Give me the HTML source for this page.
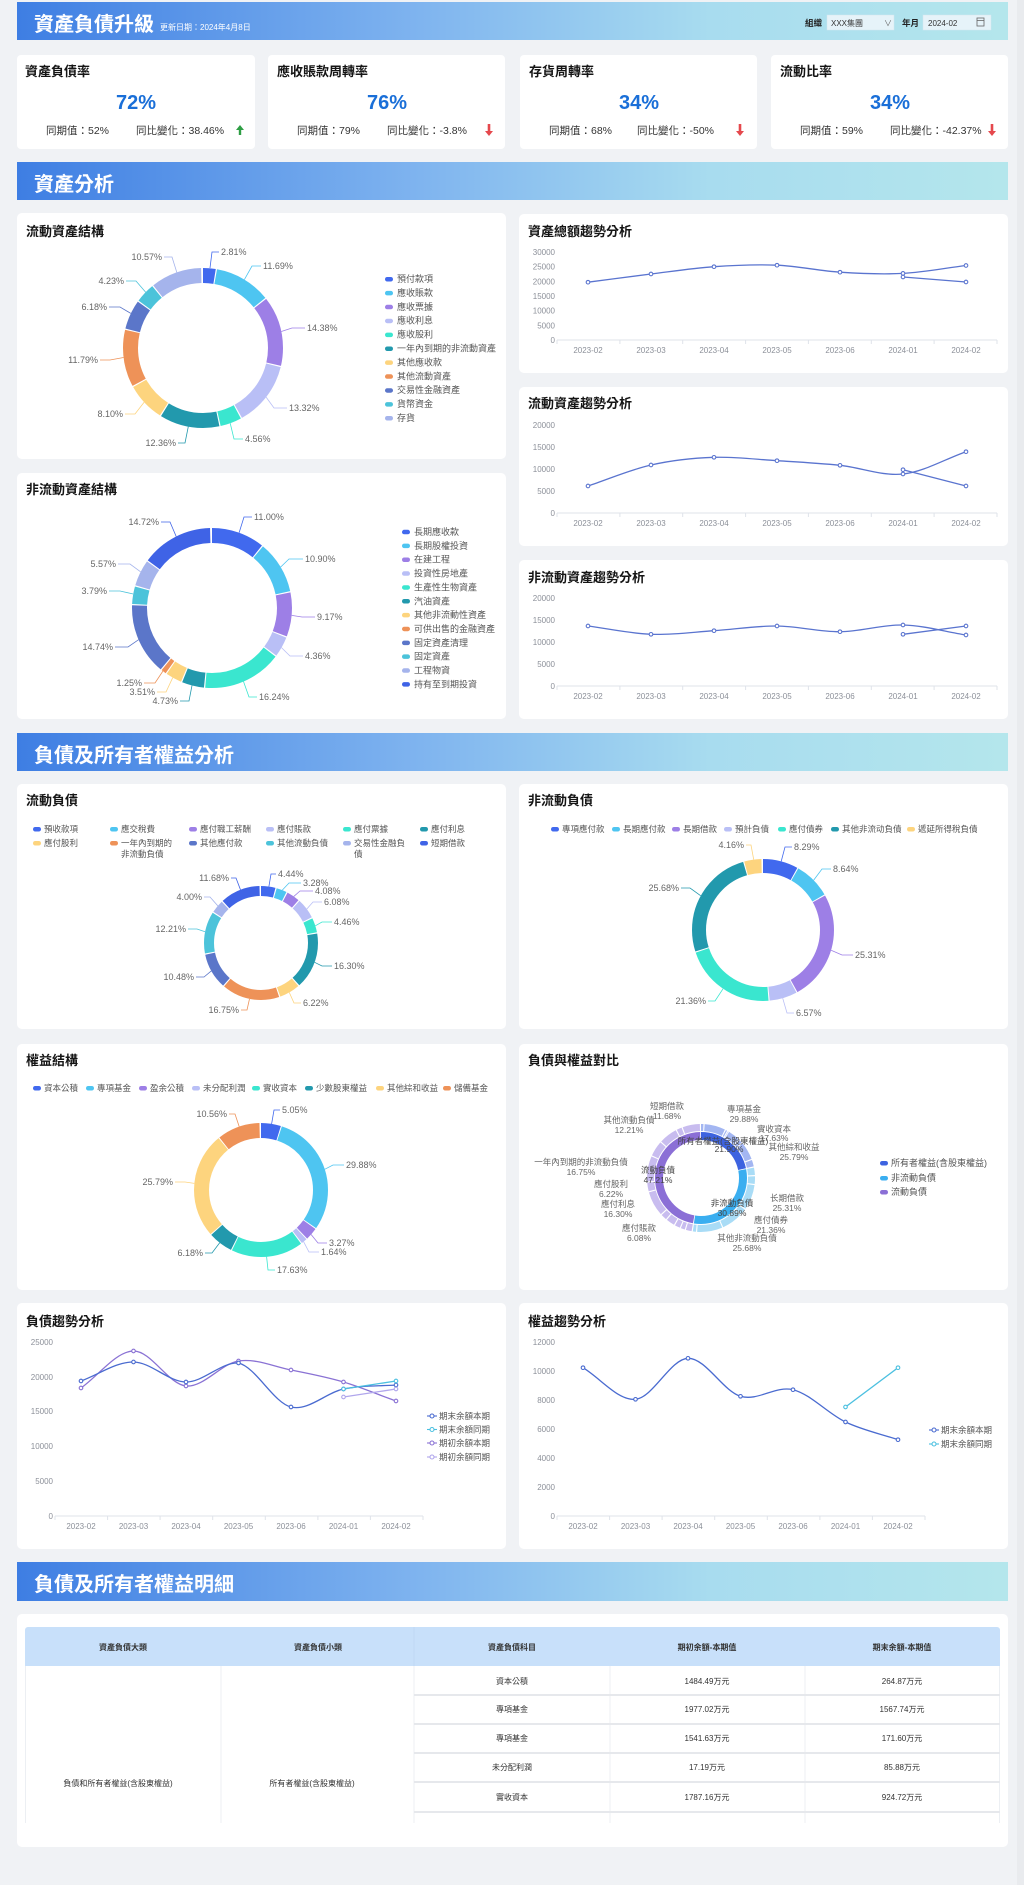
<!DOCTYPE html>
<html><head><meta charset="utf-8"><style>
html,body{margin:0;padding:0;background:#f0f2f5;}
svg{display:block;}
svg text{font-family:"Liberation Sans","Noto Sans CJK TC",sans-serif;}
.t{font-size:13px;font-weight:bold;fill:#151515;}
.sec{font-size:20px;font-weight:bold;fill:#fff;}
.lb{font-size:9px;fill:#666;}
.lg{font-size:9px;fill:#555;}
.lg2{font-size:8.5px;fill:#555;}
.ax{font-size:8px;fill:#8c9099;}
.ll{fill:none;stroke-width:0.8;}
.nl{font-size:8.5px;fill:#666;}
.th{font-size:8px;font-weight:bold;fill:#333;}
.td{font-size:8px;fill:#333;}
</style></head><body>
<svg width="1024" height="1885" viewBox="0 0 1024 1885" xmlns="http://www.w3.org/2000/svg">
<defs>
<linearGradient id="bn" x1="0" x2="1" y1="0" y2="0">
<stop offset="0" stop-color="#3e7ee3"/><stop offset="0.4" stop-color="#7eb3ef"/><stop offset="0.7" stop-color="#a8dcef"/><stop offset="1" stop-color="#b4e6ec"/>
</linearGradient>
</defs>
<rect width="1024" height="1885" fill="#f0f2f5"/>
<rect x="1017" y="0" width="7" height="1885" fill="#e9ebee"/>

<!-- Header -->
<rect x="17" y="2" width="991" height="38" fill="url(#bn)"/>
<text x="34" y="31" class="sec">資產負債升級</text>
<text x="160" y="30" font-size="8" fill="#fff">更新日期：2024年4月8日</text>
<text x="805" y="26" font-size="8.5" font-weight="bold" fill="#222">組織</text>
<rect x="827" y="15" width="67" height="15" fill="#e6f3f9" stroke="#d3e6ef" stroke-width="0.5"/>
<text x="831" y="26" font-size="8" fill="#333">XXX集團</text>
<text x="884" y="26" font-size="8" fill="#666">∨</text>
<text x="902" y="26" font-size="8.5" font-weight="bold" fill="#222">年月</text>
<rect x="923" y="15" width="68" height="15" fill="#e6f3f9" stroke="#d3e6ef" stroke-width="0.5"/>
<text x="928" y="26" font-size="8" fill="#333">2024-02</text>
<rect x="977" y="18" width="7" height="8" fill="none" stroke="#666" stroke-width="0.8"/>
<line x1="977" y1="20.5" x2="984" y2="20.5" stroke="#666" stroke-width="0.8"/>

<!-- KPI cards -->
<g>
<rect x="17" y="55" width="238" height="94" rx="4" fill="#fff"/>
<rect x="268" y="55" width="237" height="94" rx="4" fill="#fff"/>
<rect x="520" y="55" width="237" height="94" rx="4" fill="#fff"/>
<rect x="771" y="55" width="237" height="94" rx="4" fill="#fff"/>
<text x="25" y="76" class="t">資產負債率</text>
<text x="277" y="76" class="t">應收賬款周轉率</text>
<text x="529" y="76" class="t">存貨周轉率</text>
<text x="780" y="76" class="t">流動比率</text>
<g font-size="20" font-weight="bold" fill="#1a6fd8" text-anchor="middle">
<text x="136" y="109">72%</text><text x="387" y="109">76%</text><text x="639" y="109">34%</text><text x="890" y="109">34%</text>
</g>
<g font-size="10.5" fill="#333">
<text x="46" y="134">同期值：52%</text><text x="136" y="134">同比變化：38.46%</text>
<text x="297" y="134">同期值：79%</text><text x="387" y="134">同比變化：-3.8%</text>
<text x="549" y="134">同期值：68%</text><text x="637" y="134">同比變化：-50%</text>
<text x="800" y="134">同期值：59%</text><text x="890" y="134">同比變化：-42.37%</text>
</g>
<polygon points="240,125 244,130 241.2,130 241.2,135 238.8,135 238.8,130 236,130" fill="#2e9e44"/>
<polygon points="489,136 493,131 490.3,131 490.3,124 487.7,124 487.7,131 485,131" fill="#e5484d"/>
<polygon points="740,136 744,131 741.3,131 741.3,124 738.7,124 738.7,131 736,131" fill="#e5484d"/>
<polygon points="992,136 996,131 993.3,131 993.3,124 990.7,124 990.7,131 988,131" fill="#e5484d"/>
</g>

<!-- Section banner 1 -->
<rect x="17" y="162" width="991" height="38" fill="url(#bn)"/>
<text x="34" y="191" class="sec">資產分析</text>

<!-- Cards -->
<g fill="#fff">
<rect x="17" y="213" width="489" height="246" rx="5"/>
<rect x="519" y="214" width="489" height="159" rx="5"/>
<rect x="519" y="387" width="489" height="159" rx="5"/>
<rect x="519" y="560" width="489" height="159" rx="5"/>
<rect x="17" y="473" width="489" height="246" rx="5"/>
<rect x="17" y="784" width="489" height="245" rx="5"/>
<rect x="519" y="784" width="489" height="245" rx="5"/>
<rect x="17" y="1044" width="489" height="246" rx="5"/>
<rect x="519" y="1044" width="489" height="246" rx="5"/>
<rect x="17" y="1303" width="489" height="246" rx="5"/>
<rect x="519" y="1303" width="489" height="246" rx="5"/>
<rect x="17" y="1614" width="991" height="233" rx="5"/>
</g>
<text x="26" y="236" class="t">流動資產結構</text>
<text x="528" y="236" class="t">資產總額趨勢分析</text>
<text x="528" y="408" class="t">流動資產趨勢分析</text>
<text x="528" y="582" class="t">非流動資產趨勢分析</text>
<text x="26" y="494" class="t">非流動資產結構</text>

<!-- Donut 1 -->
<g transform="rotate(-90 203 348)" fill="none" stroke-width="15">
<circle cx="203" cy="348" r="72.5" pathLength="100" stroke="#4169ee" stroke-dasharray="2.56 100" stroke-dashoffset="0"/>
<circle cx="203" cy="348" r="72.5" pathLength="100" stroke="#4ec5f1" stroke-dasharray="11.44 100" stroke-dashoffset="-2.81"/>
<circle cx="203" cy="348" r="72.5" pathLength="100" stroke="#9d7fe6" stroke-dasharray="14.13 100" stroke-dashoffset="-14.50"/>
<circle cx="203" cy="348" r="72.5" pathLength="100" stroke="#b9bff6" stroke-dasharray="13.07 100" stroke-dashoffset="-28.88"/>
<circle cx="203" cy="348" r="72.5" pathLength="100" stroke="#3ae6cf" stroke-dasharray="4.31 100" stroke-dashoffset="-42.20"/>
<circle cx="203" cy="348" r="72.5" pathLength="100" stroke="#2299ad" stroke-dasharray="12.11 100" stroke-dashoffset="-46.76"/>
<circle cx="203" cy="348" r="72.5" pathLength="100" stroke="#fdd47e" stroke-dasharray="7.85 100" stroke-dashoffset="-59.12"/>
<circle cx="203" cy="348" r="72.5" pathLength="100" stroke="#ee9258" stroke-dasharray="11.54 100" stroke-dashoffset="-67.22"/>
<circle cx="203" cy="348" r="72.5" pathLength="100" stroke="#5b76c9" stroke-dasharray="5.93 100" stroke-dashoffset="-79.01"/>
<circle cx="203" cy="348" r="72.5" pathLength="100" stroke="#4cc3da" stroke-dasharray="3.98 100" stroke-dashoffset="-85.19"/>
<circle cx="203" cy="348" r="72.5" pathLength="100" stroke="#a5b4ec" stroke-dasharray="10.32 100" stroke-dashoffset="-89.42"/>
</g>
<g class="ll">
<polyline class="ll" points="210,268 212,252 219,252" stroke="#4169ee"/>
<polyline class="ll" points="244.4,279.6 252,266 261,266" stroke="#4ec5f1"/>
<polyline class="ll" points="281.3,331.5 292,328 305,328" stroke="#9d7fe6"/>
<polyline class="ll" points="266.1,397.1 274,408 287,408" stroke="#b9bff6"/>
<polyline class="ll" points="230.2,423.2 234,439 243,439" stroke="#3ae6cf"/>
<polyline class="ll" points="188.3,426.6 185,443 178,443" stroke="#2299ad"/>
<polyline class="ll" points="144.1,402.2 135,414 125,414" stroke="#fdd47e"/>
<polyline class="ll" points="123.6,357.5 110,360 100,360" stroke="#ee9258"/>
<polyline class="ll" points="130.8,313.4 120,307 109,307" stroke="#5b76c9"/>
<polyline class="ll" points="145.7,292.2 136,281 126,281" stroke="#4cc3da"/>
<polyline class="ll" points="176.8,272.4 172,257 164,257" stroke="#a5b4ec"/>
</g>
<g class="lb">
<text x="221" y="255">2.81%</text>
<text x="263" y="269">11.69%</text>
<text x="307" y="331">14.38%</text>
<text x="289" y="411">13.32%</text>
<text x="245" y="442">4.56%</text>
<text x="176" y="446" text-anchor="end">12.36%</text>
<text x="123" y="417" text-anchor="end">8.10%</text>
<text x="98" y="363" text-anchor="end">11.79%</text>
<text x="107" y="310" text-anchor="end">6.18%</text>
<text x="124" y="284" text-anchor="end">4.23%</text>
<text x="162" y="260" text-anchor="end">10.57%</text>
</g>
<g>
<rect x="385" y="277" width="8" height="4.5" rx="2.2" fill="#4169ee"/>
<rect x="385" y="290.9" width="8" height="4.5" rx="2.2" fill="#4ec5f1"/>
<rect x="385" y="304.8" width="8" height="4.5" rx="2.2" fill="#9d7fe6"/>
<rect x="385" y="318.7" width="8" height="4.5" rx="2.2" fill="#b9bff6"/>
<rect x="385" y="332.6" width="8" height="4.5" rx="2.2" fill="#3ae6cf"/>
<rect x="385" y="346.5" width="8" height="4.5" rx="2.2" fill="#2299ad"/>
<rect x="385" y="360.4" width="8" height="4.5" rx="2.2" fill="#fdd47e"/>
<rect x="385" y="374.3" width="8" height="4.5" rx="2.2" fill="#ee9258"/>
<rect x="385" y="388.2" width="8" height="4.5" rx="2.2" fill="#5b76c9"/>
<rect x="385" y="402.1" width="8" height="4.5" rx="2.2" fill="#4cc3da"/>
<rect x="385" y="416" width="8" height="4.5" rx="2.2" fill="#a5b4ec"/>
</g>
<g class="lg">
<text x="397" y="282">預付款項</text>
<text x="397" y="295.9">應收賬款</text>
<text x="397" y="309.8">應收票據</text>
<text x="397" y="323.7">應收利息</text>
<text x="397" y="337.6">應收股利</text>
<text x="397" y="351.5">一年內到期的非流動資產</text>
<text x="397" y="365.4">其他應收款</text>
<text x="397" y="379.3">其他流動資產</text>
<text x="397" y="393.2">交易性金融資產</text>
<text x="397" y="407.1">貨幣資金</text>
<text x="397" y="421">存貨</text>
</g>

<!-- Donut 2 -->
<g transform="rotate(-90 212 608)" fill="none" stroke-width="15">
<circle cx="212" cy="608" r="72.5" pathLength="100" stroke="#4169ee" stroke-dasharray="10.75 100" stroke-dashoffset="0"/>
<circle cx="212" cy="608" r="72.5" pathLength="100" stroke="#4ec5f1" stroke-dasharray="10.65 100" stroke-dashoffset="-11.00"/>
<circle cx="212" cy="608" r="72.5" pathLength="100" stroke="#9d7fe6" stroke-dasharray="8.92 100" stroke-dashoffset="-21.90"/>
<circle cx="212" cy="608" r="72.5" pathLength="100" stroke="#b9bff6" stroke-dasharray="4.11 100" stroke-dashoffset="-31.07"/>
<circle cx="212" cy="608" r="72.5" pathLength="100" stroke="#3ae6cf" stroke-dasharray="15.99 100" stroke-dashoffset="-35.43"/>
<circle cx="212" cy="608" r="72.5" pathLength="100" stroke="#2299ad" stroke-dasharray="4.48 100" stroke-dashoffset="-51.67"/>
<circle cx="212" cy="608" r="72.5" pathLength="100" stroke="#fdd47e" stroke-dasharray="3.26 100" stroke-dashoffset="-56.40"/>
<circle cx="212" cy="608" r="72.5" pathLength="100" stroke="#ee9258" stroke-dasharray="1.0 100" stroke-dashoffset="-59.91"/>
<circle cx="212" cy="608" r="72.5" pathLength="100" stroke="#5b76c9" stroke-dasharray="14.49 100" stroke-dashoffset="-61.16"/>
<circle cx="212" cy="608" r="72.5" pathLength="100" stroke="#4cc3da" stroke-dasharray="3.54 100" stroke-dashoffset="-75.90"/>
<circle cx="212" cy="608" r="72.5" pathLength="100" stroke="#a5b4ec" stroke-dasharray="5.32 100" stroke-dashoffset="-79.69"/>
<circle cx="212" cy="608" r="72.5" pathLength="100" stroke="#3f63e6" stroke-dasharray="14.47 100" stroke-dashoffset="-85.26"/>
</g>
<g>
<polyline class="ll" points="239.1,532.7 244,517 252,517" stroke="#4169ee"/>
<polyline class="ll" points="280.7,567 289,559 303,559" stroke="#4ec5f1"/>
<polyline class="ll" points="291.7,615.4 302,617 315,617" stroke="#9d7fe6"/>
<polyline class="ll" points="281.5,647.6 290,656 303,656" stroke="#b9bff6"/>
<polyline class="ll" points="243.5,681.5 249,697 257,697" stroke="#3ae6cf"/>
<polyline class="ll" points="192,685.4 189,701 180,701" stroke="#2299ad"/>
<polyline class="ll" points="172.7,677.7 166,692 157,692" stroke="#fdd47e"/>
<polyline class="ll" points="162.9,671.1 155,683 144,683" stroke="#ee9258"/>
<polyline class="ll" points="138.6,639.7 128,647 115,647" stroke="#5b76c9"/>
<polyline class="ll" points="133.2,594 120,591 109,591" stroke="#4cc3da"/>
<polyline class="ll" points="140.6,571.8 130,564 118,564" stroke="#a5b4ec"/>
<polyline class="ll" points="176.2,536.5 170,522 161,522" stroke="#3f63e6"/>
</g>
<g class="lb">
<text x="254" y="520">11.00%</text>
<text x="305" y="562">10.90%</text>
<text x="317" y="620">9.17%</text>
<text x="305" y="659">4.36%</text>
<text x="259" y="700">16.24%</text>
<text x="178" y="704" text-anchor="end">4.73%</text>
<text x="155" y="695" text-anchor="end">3.51%</text>
<text x="142" y="686" text-anchor="end">1.25%</text>
<text x="113" y="650" text-anchor="end">14.74%</text>
<text x="107" y="594" text-anchor="end">3.79%</text>
<text x="116" y="567" text-anchor="end">5.57%</text>
<text x="159" y="525" text-anchor="end">14.72%</text>
</g>
<g>
<rect x="402" y="529.8" width="8" height="4.5" rx="2.2" fill="#4169ee"/>
<rect x="402" y="543.6" width="8" height="4.5" rx="2.2" fill="#4ec5f1"/>
<rect x="402" y="557.5" width="8" height="4.5" rx="2.2" fill="#9d7fe6"/>
<rect x="402" y="571.3" width="8" height="4.5" rx="2.2" fill="#b9bff6"/>
<rect x="402" y="585.2" width="8" height="4.5" rx="2.2" fill="#3ae6cf"/>
<rect x="402" y="599" width="8" height="4.5" rx="2.2" fill="#2299ad"/>
<rect x="402" y="612.9" width="8" height="4.5" rx="2.2" fill="#fdd47e"/>
<rect x="402" y="626.7" width="8" height="4.5" rx="2.2" fill="#ee9258"/>
<rect x="402" y="640.6" width="8" height="4.5" rx="2.2" fill="#5b76c9"/>
<rect x="402" y="654.4" width="8" height="4.5" rx="2.2" fill="#4cc3da"/>
<rect x="402" y="668.3" width="8" height="4.5" rx="2.2" fill="#a5b4ec"/>
<rect x="402" y="682.1" width="8" height="4.5" rx="2.2" fill="#3f63e6"/>
</g>
<g class="lg">
<text x="414" y="535">長期應收款</text>
<text x="414" y="548.9">長期股權投資</text>
<text x="414" y="562.7">在建工程</text>
<text x="414" y="576.6">投資性房地產</text>
<text x="414" y="590.4">生產性生物資產</text>
<text x="414" y="604.3">汽油資產</text>
<text x="414" y="618.1">其他非流動性資產</text>
<text x="414" y="632">可供出售的金融資產</text>
<text x="414" y="645.8">固定資產清理</text>
<text x="414" y="659.7">固定資產</text>
<text x="414" y="673.5">工程物資</text>
<text x="414" y="687.4">持有至到期投資</text>
</g>

<!-- Trend A -->
<g class="ax" text-anchor="end">
<text x="555" y="255">30000</text><text x="555" y="269.7">25000</text><text x="555" y="284.3">20000</text><text x="555" y="299">15000</text><text x="555" y="313.7">10000</text><text x="555" y="328.3">5000</text><text x="555" y="343">0</text>
</g>
<line x1="557" y1="340" x2="997" y2="340" stroke="#dfe3ea"/>
<path d="M557,340v4M619.9,340v4M682.7,340v4M745.6,340v4M808.4,340v4M871.3,340v4M934.1,340v4M997,340v4" stroke="#dfe3ea"/>
<g class="ax" text-anchor="middle">
<text x="588" y="353">2023-02</text><text x="651" y="353">2023-03</text><text x="714" y="353">2023-04</text><text x="777" y="353">2023-05</text><text x="840" y="353">2023-06</text><text x="903" y="353">2024-01</text><text x="966" y="353">2024-02</text>
</g>
<path d="M588,282.2 C609,279.5 630,276.6 651,274 C672,271.4 693,268.2 714,266.7 C735,265.2 756,264.3 777,265.2 C798,266.1 819,270.8 840,272.2 C861,273.6 882,274.5 903,273.4 C924,272.3 945,268.1 966,265.5" fill="none" stroke="#5a74cf" stroke-width="1.3"/>
<path d="M903,277 L966,282" fill="none" stroke="#5a74cf" stroke-width="1.3"/>
<g fill="#fff" stroke="#5a74cf" stroke-width="1.1">
<circle cx="588" cy="282.2" r="1.8"/><circle cx="651" cy="274" r="1.8"/><circle cx="714" cy="266.7" r="1.8"/><circle cx="777" cy="265.2" r="1.8"/><circle cx="840" cy="272.2" r="1.8"/><circle cx="903" cy="273.4" r="1.8"/><circle cx="966" cy="265.5" r="1.8"/><circle cx="903" cy="277" r="1.8"/><circle cx="966" cy="282" r="1.8"/>
</g>

<!-- Trend B -->
<g class="ax" text-anchor="end">
<text x="555" y="428">20000</text><text x="555" y="450">15000</text><text x="555" y="472">10000</text><text x="555" y="494">5000</text><text x="555" y="516">0</text>
</g>
<line x1="557" y1="513" x2="997" y2="513" stroke="#dfe3ea"/>
<path d="M557,513v4M619.9,513v4M682.7,513v4M745.6,513v4M808.4,513v4M871.3,513v4M934.1,513v4M997,513v4" stroke="#dfe3ea"/>
<g class="ax" text-anchor="middle">
<text x="588" y="526">2023-02</text><text x="651" y="526">2023-03</text><text x="714" y="526">2023-04</text><text x="777" y="526">2023-05</text><text x="840" y="526">2023-06</text><text x="903" y="526">2024-01</text><text x="966" y="526">2024-02</text>
</g>
<path d="M588,486 C609,479 630,469.8 651,465 C672,460.2 693,458 714,457.3 C735,456.6 756,459.4 777,460.7 C798,462 819,463.1 840,465.3 C861,467.5 882,476.3 903,474 C924,471.7 945,459.1 966,451.7" fill="none" stroke="#5a74cf" stroke-width="1.3"/>
<path d="M903,469.7 L966,486" fill="none" stroke="#5a74cf" stroke-width="1.3"/>
<g fill="#fff" stroke="#5a74cf" stroke-width="1.1">
<circle cx="588" cy="486" r="1.8"/><circle cx="651" cy="465" r="1.8"/><circle cx="714" cy="457.3" r="1.8"/><circle cx="777" cy="460.7" r="1.8"/><circle cx="840" cy="465.3" r="1.8"/><circle cx="903" cy="474" r="1.8"/><circle cx="966" cy="451.7" r="1.8"/><circle cx="903" cy="469.7" r="1.8"/><circle cx="966" cy="486" r="1.8"/>
</g>

<!-- Trend C -->
<g class="ax" text-anchor="end">
<text x="555" y="601">20000</text><text x="555" y="623">15000</text><text x="555" y="645">10000</text><text x="555" y="667">5000</text><text x="555" y="689">0</text>
</g>
<line x1="557" y1="686" x2="997" y2="686" stroke="#dfe3ea"/>
<path d="M557,686v4M619.9,686v4M682.7,686v4M745.6,686v4M808.4,686v4M871.3,686v4M934.1,686v4M997,686v4" stroke="#dfe3ea"/>
<g class="ax" text-anchor="middle">
<text x="588" y="699">2023-02</text><text x="651" y="699">2023-03</text><text x="714" y="699">2023-04</text><text x="777" y="699">2023-05</text><text x="840" y="699">2023-06</text><text x="903" y="699">2024-01</text><text x="966" y="699">2024-02</text>
</g>
<path d="M588,626 C609,628.8 630,633.5 651,634.3 C672,635.1 693,632.1 714,630.7 C735,629.3 756,625.8 777,626 C798,626.2 819,631.9 840,631.7 C861,631.5 882,624.5 903,625 C924,625.5 945,631.7 966,635" fill="none" stroke="#5a74cf" stroke-width="1.3"/>
<path d="M903,634.3 L966,626" fill="none" stroke="#5a74cf" stroke-width="1.3"/>
<g fill="#fff" stroke="#5a74cf" stroke-width="1.1">
<circle cx="588" cy="626" r="1.8"/><circle cx="651" cy="634.3" r="1.8"/><circle cx="714" cy="630.7" r="1.8"/><circle cx="777" cy="626" r="1.8"/><circle cx="840" cy="631.7" r="1.8"/><circle cx="903" cy="625" r="1.8"/><circle cx="966" cy="635" r="1.8"/><circle cx="903" cy="634.3" r="1.8"/><circle cx="966" cy="626" r="1.8"/>
</g>

<!-- Section banner 2 -->
<rect x="17" y="733" width="991" height="38" fill="url(#bn)"/>
<text x="34" y="762" class="sec">負債及所有者權益分析</text>

<text x="26" y="805" class="t">流動負債</text>
<text x="528" y="805" class="t">非流動負債</text>

<!-- 流動負債 legend -->
<g>
<rect x="33" y="827" width="8" height="4.5" rx="2.2" fill="#4169ee"/>
<rect x="110" y="827" width="8" height="4.5" rx="2.2" fill="#4ec5f1"/>
<rect x="189" y="827" width="8" height="4.5" rx="2.2" fill="#9d7fe6"/>
<rect x="266" y="827" width="8" height="4.5" rx="2.2" fill="#b9bff6"/>
<rect x="343" y="827" width="8" height="4.5" rx="2.2" fill="#3ae6cf"/>
<rect x="420" y="827" width="8" height="4.5" rx="2.2" fill="#2299ad"/>
<rect x="33" y="841" width="8" height="4.5" rx="2.2" fill="#fdd47e"/>
<rect x="110" y="841" width="8" height="4.5" rx="2.2" fill="#ee9258"/>
<rect x="189" y="841" width="8" height="4.5" rx="2.2" fill="#5b76c9"/>
<rect x="266" y="841" width="8" height="4.5" rx="2.2" fill="#4cc3da"/>
<rect x="343" y="841" width="8" height="4.5" rx="2.2" fill="#a5b4ec"/>
<rect x="420" y="841" width="8" height="4.5" rx="2.2" fill="#3f63e6"/>
</g>
<g class="lg2">
<text x="44" y="832">預收款項</text><text x="121" y="832">應交稅費</text><text x="200" y="832">應付職工薪酬</text><text x="277" y="832">應付賬款</text><text x="354" y="832">應付票據</text><text x="431" y="832">應付利息</text>
<text x="44" y="846">應付股利</text><text x="121" y="846">一年內到期的</text><text x="121" y="857">非流動負債</text><text x="200" y="846">其他應付款</text><text x="277" y="846">其他流動負債</text><text x="354" y="846">交易性金融負</text><text x="354" y="857">債</text><text x="431" y="846">短期借款</text>
</g>

<!-- Donut 3 -->
<g transform="rotate(-90 261 943)" fill="none" stroke-width="10">
<circle cx="261" cy="943" r="52" pathLength="100" stroke="#4169ee" stroke-dasharray="4.09 100" stroke-dashoffset="0"/>
<circle cx="261" cy="943" r="52" pathLength="100" stroke="#4ec5f1" stroke-dasharray="2.93 100" stroke-dashoffset="-4.44"/>
<circle cx="261" cy="943" r="52" pathLength="100" stroke="#9d7fe6" stroke-dasharray="3.73 100" stroke-dashoffset="-7.72"/>
<circle cx="261" cy="943" r="52" pathLength="100" stroke="#b9bff6" stroke-dasharray="5.73 100" stroke-dashoffset="-11.80"/>
<circle cx="261" cy="943" r="52" pathLength="100" stroke="#3ae6cf" stroke-dasharray="4.11 100" stroke-dashoffset="-17.88"/>
<circle cx="261" cy="943" r="52" pathLength="100" stroke="#2299ad" stroke-dasharray="15.95 100" stroke-dashoffset="-22.34"/>
<circle cx="261" cy="943" r="52" pathLength="100" stroke="#fdd47e" stroke-dasharray="5.87 100" stroke-dashoffset="-38.64"/>
<circle cx="261" cy="943" r="52" pathLength="100" stroke="#ee9258" stroke-dasharray="16.4 100" stroke-dashoffset="-44.86"/>
<circle cx="261" cy="943" r="52" pathLength="100" stroke="#5b76c9" stroke-dasharray="10.13 100" stroke-dashoffset="-61.61"/>
<circle cx="261" cy="943" r="52" pathLength="100" stroke="#4cc3da" stroke-dasharray="11.86 100" stroke-dashoffset="-72.09"/>
<circle cx="261" cy="943" r="52" pathLength="100" stroke="#a5b4ec" stroke-dasharray="3.65 100" stroke-dashoffset="-84.30"/>
<circle cx="261" cy="943" r="52" pathLength="100" stroke="#3f63e6" stroke-dasharray="11.33 100" stroke-dashoffset="-88.30"/>
</g>
<g>
<polyline class="ll" points="268.9,886.6 271,874 276,874" stroke="#4169ee"/>
<polyline class="ll" points="282.3,890.1 289,883 301,883" stroke="#4ec5f1"/>
<polyline class="ll" points="293.8,896.4 300,891 313,891" stroke="#9d7fe6"/>
<polyline class="ll" points="306.8,909 313,902 322,902" stroke="#b9bff6"/>
<polyline class="ll" points="315.3,925.8 322,922 332,922" stroke="#3ae6cf"/>
<polyline class="ll" points="314.6,962.3 322,966 332,966" stroke="#2299ad"/>
<polyline class="ll" points="289.3,992.5 294,1003 301,1003" stroke="#fdd47e"/>
<polyline class="ll" points="249.5,998.9 247,1010 241,1010" stroke="#ee9258"/>
<polyline class="ll" points="211.3,970.9 204,977 196,977" stroke="#5b76c9"/>
<polyline class="ll" points="205.1,931.7 197,929 188,929" stroke="#4cc3da"/>
<polyline class="ll" points="217.8,905.8 210,897 204,897" stroke="#a5b4ec"/>
<polyline class="ll" points="240.5,889.8 236,878 231,878" stroke="#3f63e6"/>
</g>
<g class="lb">
<text x="278" y="877">4.44%</text>
<text x="303" y="886">3.28%</text>
<text x="315" y="894">4.08%</text>
<text x="324" y="905">6.08%</text>
<text x="334" y="925">4.46%</text>
<text x="334" y="969">16.30%</text>
<text x="303" y="1006">6.22%</text>
<text x="239" y="1013" text-anchor="end">16.75%</text>
<text x="194" y="980" text-anchor="end">10.48%</text>
<text x="186" y="932" text-anchor="end">12.21%</text>
<text x="202" y="900" text-anchor="end">4.00%</text>
<text x="229" y="881" text-anchor="end">11.68%</text>
</g>

<!-- 非流動負債 legend -->
<g>
<rect x="551" y="827" width="8" height="4.5" rx="2.2" fill="#4169ee"/>
<rect x="612" y="827" width="8" height="4.5" rx="2.2" fill="#4ec5f1"/>
<rect x="672" y="827" width="8" height="4.5" rx="2.2" fill="#9d7fe6"/>
<rect x="724" y="827" width="8" height="4.5" rx="2.2" fill="#b9bff6"/>
<rect x="778" y="827" width="8" height="4.5" rx="2.2" fill="#3ae6cf"/>
<rect x="831" y="827" width="8" height="4.5" rx="2.2" fill="#2299ad"/>
<rect x="907" y="827" width="8" height="4.5" rx="2.2" fill="#fdd47e"/>
</g>
<g class="lg2">
<text x="562" y="832">專項應付款</text><text x="623" y="832">長期應付款</text><text x="683" y="832">長期借款</text><text x="735" y="832">預計負債</text><text x="789" y="832">應付債券</text><text x="842" y="832">其他非流动負債</text><text x="918" y="832">遞延所得稅負債</text>
</g>

<!-- Donut 4 -->
<g transform="rotate(-90 763 930)" fill="none" stroke-width="14">
<circle cx="763" cy="930" r="64" pathLength="100" stroke="#4169ee" stroke-dasharray="8.04 100" stroke-dashoffset="0"/>
<circle cx="763" cy="930" r="64" pathLength="100" stroke="#4ec5f1" stroke-dasharray="8.39 100" stroke-dashoffset="-8.29"/>
<circle cx="763" cy="930" r="64" pathLength="100" stroke="#9d7fe6" stroke-dasharray="25.06 100" stroke-dashoffset="-16.93"/>
<circle cx="763" cy="930" r="64" pathLength="100" stroke="#b9bff6" stroke-dasharray="6.32 100" stroke-dashoffset="-42.24"/>
<circle cx="763" cy="930" r="64" pathLength="100" stroke="#3ae6cf" stroke-dasharray="21.11 100" stroke-dashoffset="-48.81"/>
<circle cx="763" cy="930" r="64" pathLength="100" stroke="#2299ad" stroke-dasharray="25.43 100" stroke-dashoffset="-70.17"/>
<circle cx="763" cy="930" r="64" pathLength="100" stroke="#fdd47e" stroke-dasharray="3.91 100" stroke-dashoffset="-95.85"/>
</g>
<g>
<polyline class="ll" points="781.2,861.4 785,847 792,847" stroke="#4169ee"/>
<polyline class="ll" points="813.6,880.2 822,869 831,869" stroke="#4ec5f1"/>
<polyline class="ll" points="831.1,950.2 842,955 853,955" stroke="#9d7fe6"/>
<polyline class="ll" points="782.7,998.2 787,1013 794,1013" stroke="#b9bff6"/>
<polyline class="ll" points="723.1,988.7 715,1001 708,1001" stroke="#3ae6cf"/>
<polyline class="ll" points="700.8,895.8 690,888 681,888" stroke="#2299ad"/>
<polyline class="ll" points="753.7,859.6 751,845 746,845" stroke="#fdd47e"/>
</g>
<g class="lb">
<text x="794" y="850">8.29%</text>
<text x="833" y="872">8.64%</text>
<text x="855" y="958">25.31%</text>
<text x="796" y="1016">6.57%</text>
<text x="706" y="1004" text-anchor="end">21.36%</text>
<text x="679" y="891" text-anchor="end">25.68%</text>
<text x="744" y="848" text-anchor="end">4.16%</text>
</g>

<!-- 權益結構 -->
<text x="26" y="1065" class="t">權益結構</text>
<text x="528" y="1065" class="t">負債與權益對比</text>
<g>
<rect x="33" y="1086" width="8" height="4.5" rx="2.2" fill="#4169ee"/>
<rect x="86" y="1086" width="8" height="4.5" rx="2.2" fill="#4ec5f1"/>
<rect x="139" y="1086" width="8" height="4.5" rx="2.2" fill="#9d7fe6"/>
<rect x="192" y="1086" width="8" height="4.5" rx="2.2" fill="#b9bff6"/>
<rect x="252" y="1086" width="8" height="4.5" rx="2.2" fill="#3ae6cf"/>
<rect x="305" y="1086" width="8" height="4.5" rx="2.2" fill="#2299ad"/>
<rect x="376" y="1086" width="8" height="4.5" rx="2.2" fill="#fdd47e"/>
<rect x="443" y="1086" width="8" height="4.5" rx="2.2" fill="#ee9258"/>
</g>
<g class="lg2">
<text x="44" y="1091">資本公積</text><text x="97" y="1091">專項基金</text><text x="150" y="1091">盈余公積</text><text x="203" y="1091">未分配利潤</text><text x="263" y="1091">實收資本</text><text x="316" y="1091">少數股東權益</text><text x="387" y="1091">其他綜和收益</text><text x="454" y="1091">儲備基金</text>
</g>
<g transform="rotate(-90 261 1190)" fill="none" stroke-width="15">
<circle cx="261" cy="1190" r="59.5" pathLength="100" stroke="#4169ee" stroke-dasharray="4.8 100" stroke-dashoffset="0"/>
<circle cx="261" cy="1190" r="59.5" pathLength="100" stroke="#4ec5f1" stroke-dasharray="29.63 100" stroke-dashoffset="-5.05"/>
<circle cx="261" cy="1190" r="59.5" pathLength="100" stroke="#9d7fe6" stroke-dasharray="3.02 100" stroke-dashoffset="-34.93"/>
<circle cx="261" cy="1190" r="59.5" pathLength="100" stroke="#b9bff6" stroke-dasharray="1.39 100" stroke-dashoffset="-38.20"/>
<circle cx="261" cy="1190" r="59.5" pathLength="100" stroke="#3ae6cf" stroke-dasharray="17.38 100" stroke-dashoffset="-39.84"/>
<circle cx="261" cy="1190" r="59.5" pathLength="100" stroke="#2299ad" stroke-dasharray="5.93 100" stroke-dashoffset="-57.47"/>
<circle cx="261" cy="1190" r="59.5" pathLength="100" stroke="#fdd47e" stroke-dasharray="25.54 100" stroke-dashoffset="-63.65"/>
<circle cx="261" cy="1190" r="59.5" pathLength="100" stroke="#ee9258" stroke-dasharray="10.31 100" stroke-dashoffset="-89.44"/>
</g>
<g>
<polyline class="ll" points="271.6,1123.9 274,1110 280,1110" stroke="#4169ee"/>
<polyline class="ll" points="324.7,1169.3 333,1165 344,1165" stroke="#4ec5f1"/>
<polyline class="ll" points="311.1,1234.5 318,1243 327,1243" stroke="#9d7fe6"/>
<polyline class="ll" points="303.6,1241.7 309,1252 319,1252" stroke="#b9bff6"/>
<polyline class="ll" points="266.6,1256.7 268,1270 275,1270" stroke="#3ae6cf"/>
<polyline class="ll" points="219.7,1242.8 212,1253 205,1253" stroke="#2299ad"/>
<polyline class="ll" points="194.3,1183.4 185,1182 175,1182" stroke="#fdd47e"/>
<polyline class="ll" points="239.2,1126.6 235,1114 229,1114" stroke="#ee9258"/>
</g>
<g class="lb">
<text x="282" y="1113">5.05%</text>
<text x="346" y="1168">29.88%</text>
<text x="329" y="1246">3.27%</text>
<text x="321" y="1255">1.64%</text>
<text x="277" y="1273">17.63%</text>
<text x="203" y="1256" text-anchor="end">6.18%</text>
<text x="173" y="1185" text-anchor="end">25.79%</text>
<text x="227" y="1117" text-anchor="end">10.56%</text>
</g>

<!-- Nested donut -->
<g transform="rotate(-90 701 1178)" fill="none">
<g stroke-width="7">
<circle cx="701" cy="1178" r="50.5" pathLength="100" stroke="#a3b6f2" stroke-dasharray="0.75 100" stroke-dashoffset="0"/>
<circle cx="701" cy="1178" r="50.5" pathLength="100" stroke="#a3b6f2" stroke-dasharray="6.2 100" stroke-dashoffset="-1.1"/>
<circle cx="701" cy="1178" r="50.5" pathLength="100" stroke="#a3b6f2" stroke-dasharray="0.37 100" stroke-dashoffset="-7.65"/>
<circle cx="701" cy="1178" r="50.5" pathLength="100" stroke="#a3b6f2" stroke-dasharray="0.1 100" stroke-dashoffset="-8.37"/>
<circle cx="701" cy="1178" r="50.5" pathLength="100" stroke="#a3b6f2" stroke-dasharray="3.52 100" stroke-dashoffset="-8.72"/>
<circle cx="701" cy="1178" r="50.5" pathLength="100" stroke="#a3b6f2" stroke-dasharray="1.0 100" stroke-dashoffset="-12.59"/>
<circle cx="701" cy="1178" r="50.5" pathLength="100" stroke="#a3b6f2" stroke-dasharray="5.3 100" stroke-dashoffset="-13.94"/>
<circle cx="701" cy="1178" r="50.5" pathLength="100" stroke="#a3b6f2" stroke-dasharray="1.96 100" stroke-dashoffset="-19.59"/>
<circle cx="701" cy="1178" r="50.5" pathLength="100" stroke="#a9dcf6" stroke-dasharray="2.21 100" stroke-dashoffset="-21.9"/>
<circle cx="701" cy="1178" r="50.5" pathLength="100" stroke="#a9dcf6" stroke-dasharray="2.32 100" stroke-dashoffset="-24.46"/>
<circle cx="701" cy="1178" r="50.5" pathLength="100" stroke="#a9dcf6" stroke-dasharray="7.47 100" stroke-dashoffset="-27.13"/>
<circle cx="701" cy="1178" r="50.5" pathLength="100" stroke="#a9dcf6" stroke-dasharray="1.68 100" stroke-dashoffset="-34.95"/>
<circle cx="701" cy="1178" r="50.5" pathLength="100" stroke="#a9dcf6" stroke-dasharray="6.25 100" stroke-dashoffset="-36.98"/>
<circle cx="701" cy="1178" r="50.5" pathLength="100" stroke="#a9dcf6" stroke-dasharray="7.58 100" stroke-dashoffset="-43.58"/>
<circle cx="701" cy="1178" r="50.5" pathLength="100" stroke="#a9dcf6" stroke-dasharray="0.93 100" stroke-dashoffset="-51.51"/>
<circle cx="701" cy="1178" r="50.5" pathLength="100" stroke="#c8bcef" stroke-dasharray="1.75 100" stroke-dashoffset="-52.79"/>
<circle cx="701" cy="1178" r="50.5" pathLength="100" stroke="#c8bcef" stroke-dasharray="1.19 100" stroke-dashoffset="-54.89"/>
<circle cx="701" cy="1178" r="50.5" pathLength="100" stroke="#c8bcef" stroke-dasharray="1.58 100" stroke-dashoffset="-56.43"/>
<circle cx="701" cy="1178" r="50.5" pathLength="100" stroke="#c8bcef" stroke-dasharray="2.52 100" stroke-dashoffset="-58.36"/>
<circle cx="701" cy="1178" r="50.5" pathLength="100" stroke="#c8bcef" stroke-dasharray="1.76 100" stroke-dashoffset="-61.23"/>
<circle cx="701" cy="1178" r="50.5" pathLength="100" stroke="#c8bcef" stroke-dasharray="7.34 100" stroke-dashoffset="-63.34"/>
<circle cx="701" cy="1178" r="50.5" pathLength="100" stroke="#c8bcef" stroke-dasharray="2.59 100" stroke-dashoffset="-71.03"/>
<circle cx="701" cy="1178" r="50.5" pathLength="100" stroke="#c8bcef" stroke-dasharray="7.56 100" stroke-dashoffset="-73.97"/>
<circle cx="701" cy="1178" r="50.5" pathLength="100" stroke="#c8bcef" stroke-dasharray="4.59 100" stroke-dashoffset="-81.88"/>
<circle cx="701" cy="1178" r="50.5" pathLength="100" stroke="#c8bcef" stroke-dasharray="5.42 100" stroke-dashoffset="-86.82"/>
<circle cx="701" cy="1178" r="50.5" pathLength="100" stroke="#c8bcef" stroke-dasharray="1.54 100" stroke-dashoffset="-92.59"/>
<circle cx="701" cy="1178" r="50.5" pathLength="100" stroke="#c8bcef" stroke-dasharray="5.17 100" stroke-dashoffset="-94.48"/>
</g>
<g stroke-width="8">
<circle cx="701" cy="1178" r="42" pathLength="100" stroke="#3d63e0" stroke-dasharray="21.6 100" stroke-dashoffset="0"/>
<circle cx="701" cy="1178" r="42" pathLength="100" stroke="#3aaef0" stroke-dasharray="30.59 100" stroke-dashoffset="-21.9"/>
<circle cx="701" cy="1178" r="42" pathLength="100" stroke="#8b6fd6" stroke-dasharray="46.91 100" stroke-dashoffset="-52.79"/>
</g>
</g>
<g class="nl" text-anchor="middle">
<text x="667" y="1109">短期借款</text><text x="667" y="1119">11.68%</text>
<text x="744" y="1112">專項基金</text><text x="744" y="1122">29.88%</text>
<text x="629" y="1123">其他流動負債</text><text x="629" y="1133">12.21%</text>
<text x="774" y="1132">實收資本</text><text x="774" y="1141">17.63%</text>
<text x="723" y="1144" fill="#444">所有者權益(含股東權益)</text><text x="729" y="1152" fill="#444">21.90%</text>
<text x="794" y="1150">其他綜和收益</text><text x="794" y="1160">25.79%</text>
<text x="581" y="1165">一年內到期的非流動負債</text><text x="581" y="1175">16.75%</text>
<text x="658" y="1173" fill="#444">流動負債</text><text x="658" y="1183" fill="#444">47.21%</text>
<text x="611" y="1187">應付股利</text><text x="611" y="1197">6.22%</text>
<text x="618" y="1207">應付利息</text><text x="618" y="1217">16.30%</text>
<text x="787" y="1201">长期借款</text><text x="787" y="1211">25.31%</text>
<text x="732" y="1206" fill="#444">非流動負債</text><text x="732" y="1216" fill="#444">30.89%</text>
<text x="771" y="1223">應付債券</text><text x="771" y="1233">21.36%</text>
<text x="639" y="1231">應付賬款</text><text x="639" y="1241">6.08%</text>
<text x="747" y="1241">其他非流動負債</text><text x="747" y="1251">25.68%</text>
</g>
<g>
<rect x="880" y="1161" width="8" height="4.5" rx="2.2" fill="#3d63e0"/>
<rect x="880" y="1176" width="8" height="4.5" rx="2.2" fill="#3aaef0"/>
<rect x="880" y="1190" width="8" height="4.5" rx="2.2" fill="#8b6fd6"/>
</g>
<g class="lg">
<text x="891" y="1166">所有者權益(含股東權益)</text>
<text x="891" y="1181">非流動負債</text>
<text x="891" y="1195">流動負債</text>
</g>

<!-- 負債趨勢分析 -->
<text x="26" y="1326" class="t">負債趨勢分析</text>
<text x="528" y="1326" class="t">權益趨勢分析</text>
<g class="ax" text-anchor="end">
<text x="53" y="1345">25000</text><text x="53" y="1380">20000</text><text x="53" y="1414">15000</text><text x="53" y="1449">10000</text><text x="53" y="1484">5000</text><text x="53" y="1519">0</text>
</g>
<line x1="55" y1="1516" x2="423" y2="1516" stroke="#dfe3ea"/>
<path d="M55,1516v4M107.6,1516v4M160.1,1516v4M212.7,1516v4M265.3,1516v4M317.9,1516v4M370.4,1516v4M423,1516v4" stroke="#dfe3ea"/>
<g class="ax" text-anchor="middle">
<text x="81" y="1529">2023-02</text><text x="133.5" y="1529">2023-03</text><text x="186" y="1529">2023-04</text><text x="238.5" y="1529">2023-05</text><text x="291" y="1529">2023-06</text><text x="343.5" y="1529">2024-01</text><text x="396" y="1529">2024-02</text>
</g>
<path d="M81,1388 C98.5,1375.7 116,1351.3 133.5,1351 C151,1350.7 168.5,1384.3 186,1386 C203.5,1387.7 221,1363.7 238.5,1361 C256,1358.3 273.5,1366.5 291,1370 C308.5,1373.5 326,1376.8 343.5,1382 C361,1387.2 378.5,1394.7 396,1401" fill="none" stroke="#8a72d4" stroke-width="1.3"/>
<path d="M81,1381 C98.5,1374.7 116,1361.8 133.5,1362 C151,1362.2 168.5,1381.8 186,1382 C203.5,1382.2 221,1362 238.5,1363 C256,1367.2 273.5,1402.7 291,1407 C308.5,1411.3 326,1392.7 343.5,1389 C361,1385.3 378.5,1386.3 396,1385" fill="none" stroke="#4a6bd0" stroke-width="1.3"/>
<path d="M343.5,1389 L396,1381" fill="none" stroke="#4cc0e0" stroke-width="1.3"/>
<path d="M343.5,1397 L396,1389" fill="none" stroke="#b0a6ec" stroke-width="1.3"/>
<g fill="#fff" stroke-width="1.1">
<g stroke="#8a72d4"><circle cx="81" cy="1388" r="1.8"/><circle cx="133.5" cy="1351" r="1.8"/><circle cx="186" cy="1386" r="1.8"/><circle cx="238.5" cy="1361" r="1.8"/><circle cx="291" cy="1370" r="1.8"/><circle cx="343.5" cy="1382" r="1.8"/><circle cx="396" cy="1401" r="1.8"/></g>
<g stroke="#4a6bd0"><circle cx="81" cy="1381" r="1.8"/><circle cx="133.5" cy="1362" r="1.8"/><circle cx="186" cy="1382" r="1.8"/><circle cx="238.5" cy="1363" r="1.8"/><circle cx="291" cy="1407" r="1.8"/><circle cx="343.5" cy="1389" r="1.8"/><circle cx="396" cy="1385" r="1.8"/></g>
<g stroke="#4cc0e0"><circle cx="343.5" cy="1389" r="1.8"/><circle cx="396" cy="1381" r="1.8"/></g>
<g stroke="#b0a6ec"><circle cx="343.5" cy="1397" r="1.8"/><circle cx="396" cy="1389" r="1.8"/></g>
</g>
<g stroke-width="1.1" fill="#fff">
<line x1="427" y1="1416" x2="437" y2="1416" stroke="#4a6bd0"/><circle cx="432" cy="1416" r="2" stroke="#4a6bd0"/>
<line x1="427" y1="1429.5" x2="437" y2="1429.5" stroke="#4cc0e0"/><circle cx="432" cy="1429.5" r="2" stroke="#4cc0e0"/>
<line x1="427" y1="1443" x2="437" y2="1443" stroke="#8a72d4"/><circle cx="432" cy="1443" r="2" stroke="#8a72d4"/>
<line x1="427" y1="1457" x2="437" y2="1457" stroke="#b0a6ec"/><circle cx="432" cy="1457" r="2" stroke="#b0a6ec"/>
</g>
<g class="lg2">
<text x="439" y="1419">期末余額本期</text><text x="439" y="1432.5">期末余額同期</text><text x="439" y="1446">期初余額本期</text><text x="439" y="1460">期初余額同期</text>
</g>

<!-- 權益趨勢分析 -->
<g class="ax" text-anchor="end">
<text x="555" y="1345">12000</text><text x="555" y="1374">10000</text><text x="555" y="1403">8000</text><text x="555" y="1432">6000</text><text x="555" y="1461">4000</text><text x="555" y="1490">2000</text><text x="555" y="1519">0</text>
</g>
<line x1="557" y1="1516" x2="925" y2="1516" stroke="#dfe3ea"/>
<path d="M557,1516v4M609.6,1516v4M662.1,1516v4M714.7,1516v4M767.3,1516v4M819.9,1516v4M872.4,1516v4M925,1516v4" stroke="#dfe3ea"/>
<g class="ax" text-anchor="middle">
<text x="583" y="1529">2023-02</text><text x="635.5" y="1529">2023-03</text><text x="688" y="1529">2023-04</text><text x="740.5" y="1529">2023-05</text><text x="793" y="1529">2023-06</text><text x="845.5" y="1529">2024-01</text><text x="898" y="1529">2024-02</text>
</g>
<path d="M583,1367.7 C600.5,1378.2 618,1400.9 635.5,1399.3 C653,1397.7 670.5,1358.8 688,1358.3 C705.5,1357.8 723,1391.1 740.5,1396.3 C758,1401.5 775.5,1385.4 793,1389.7 C810.5,1394 828,1413.7 845.5,1422 C863,1430.3 880.5,1433.8 898,1439.7" fill="none" stroke="#4a6bd0" stroke-width="1.3"/>
<path d="M845.5,1407 L898,1367.7" fill="none" stroke="#4cc0e0" stroke-width="1.3"/>
<g fill="#fff" stroke-width="1.1">
<g stroke="#4a6bd0"><circle cx="583" cy="1367.7" r="1.8"/><circle cx="635.5" cy="1399.3" r="1.8"/><circle cx="688" cy="1358.3" r="1.8"/><circle cx="740.5" cy="1396.3" r="1.8"/><circle cx="793" cy="1389.7" r="1.8"/><circle cx="845.5" cy="1422" r="1.8"/><circle cx="898" cy="1439.7" r="1.8"/></g>
<g stroke="#4cc0e0"><circle cx="845.5" cy="1407" r="1.8"/><circle cx="898" cy="1367.7" r="1.8"/></g>
</g>
<g stroke-width="1.1" fill="#fff">
<line x1="929" y1="1430" x2="939" y2="1430" stroke="#4a6bd0"/><circle cx="934" cy="1430" r="2" stroke="#4a6bd0"/>
<line x1="929" y1="1444" x2="939" y2="1444" stroke="#4cc0e0"/><circle cx="934" cy="1444" r="2" stroke="#4cc0e0"/>
</g>
<g class="lg2">
<text x="941" y="1433">期末余額本期</text><text x="941" y="1447">期末余額同期</text>
</g>

<!-- Section banner 3 -->
<rect x="17" y="1562" width="991" height="39" fill="url(#bn)"/>
<text x="34" y="1591" class="sec">負債及所有者權益明細</text>

<!-- Table -->
<rect x="25" y="1627" width="975" height="39" rx="3" fill="#c8e0fa"/>
<rect x="25" y="1663" width="975" height="3" fill="#c8e0fa"/>
<g class="th" text-anchor="middle">
<text x="123" y="1650">資產負債大類</text>
<text x="318" y="1650">資產負債小類</text>
<text x="512" y="1650">資產負債科目</text>
<text x="707" y="1650">期初余額-本期值</text>
<text x="902" y="1650">期末余額-本期值</text>
</g>
<g stroke="#eceff3" stroke-width="1">
<line x1="25.5" y1="1666" x2="25.5" y2="1823"/>
<line x1="221" y1="1666" x2="221" y2="1823"/>
<line x1="414" y1="1666" x2="414" y2="1823"/>
<line x1="610" y1="1666" x2="610" y2="1823"/>
<line x1="805" y1="1666" x2="805" y2="1823"/>
<line x1="999.5" y1="1666" x2="999.5" y2="1823"/>
</g>
<line x1="414" y1="1627" x2="414" y2="1666" stroke="#b9d3f0" stroke-width="0.6"/>
<g stroke="#e6e8ec" stroke-width="2">
<line x1="414" y1="1695" x2="1000" y2="1695"/>
<line x1="414" y1="1724" x2="1000" y2="1724"/>
<line x1="414" y1="1753" x2="1000" y2="1753"/>
<line x1="414" y1="1782" x2="1000" y2="1782"/>
<line x1="414" y1="1812" x2="1000" y2="1812"/>
</g>
<g class="td" text-anchor="middle">
<text x="512" y="1684">資本公積</text><text x="707" y="1684">1484.49万元</text><text x="902" y="1684">264.87万元</text>
<text x="512" y="1712">專項基金</text><text x="707" y="1712">1977.02万元</text><text x="902" y="1712">1567.74万元</text>
<text x="512" y="1741">專項基金</text><text x="707" y="1741">1541.63万元</text><text x="902" y="1741">171.60万元</text>
<text x="512" y="1770">未分配利潤</text><text x="707" y="1770">17.19万元</text><text x="902" y="1770">85.88万元</text>
<text x="512" y="1800">實收資本</text><text x="707" y="1800">1787.16万元</text><text x="902" y="1800">924.72万元</text>
<text x="118" y="1786">負債和所有者權益(含股東權益)</text>
<text x="312" y="1786">所有者權益(含股東權益)</text>
</g>
</svg>
</body></html>
